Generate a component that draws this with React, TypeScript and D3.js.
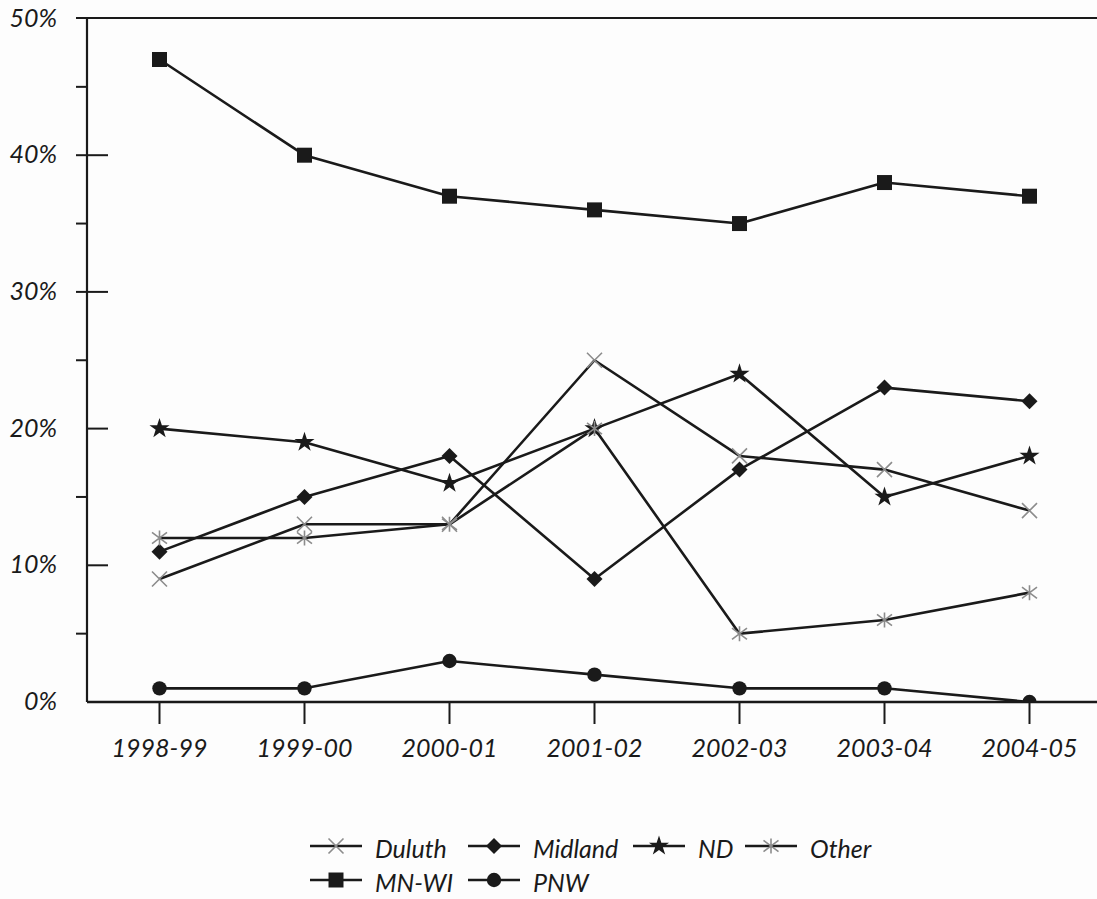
import React from "react";
import * as d3 from "d3";

const categories = ["1998-99", "1999-00", "2000-01", "2001-02", "2002-03", "2003-04", "2004-05"];
const duluth = [9, 13, 13, 25, 18, 17, 14];
const midland = [11, 15, 18, 9, 17, 23, 22];
const nd = [20, 19, 16, 20, 24, 15, 18];
const other = [12, 12, 13, 20, 5, 6, 8];
const mnwi = [47, 40, 37, 36, 35, 38, 37];
const pnw = [1, 1, 3, 2, 1, 1, 0];
const yTicks = [0, 10, 20, 30, 40, 50];
const yMinorTicks = [5, 15, 25, 35, 45];

type Sym = "x" | "diamond" | "star" | "asterisk" | "square" | "circle";
const series: { name: string; values: number[]; sym: Sym }[] = [
  { name: "Duluth", values: duluth, sym: "x" },
  { name: "Midland", values: midland, sym: "diamond" },
  { name: "ND", values: nd, sym: "star" },
  { name: "Other", values: other, sym: "asterisk" },
  { name: "MN-WI", values: mnwi, sym: "square" },
  { name: "PNW", values: pnw, sym: "circle" },
];

const W = 1097;
const H = 899;
const axisX = 87;
const topY = 18;
const baseY = 702;
const FONT = "Lato, 'Open Sans', sans-serif";
const INK = "#1a1a1a";
const GRAY = "#8c8c8c";

function Marker({ sym, x, y }: { sym: Sym; x: number; y: number }) {
  const t = `translate(${x},${y})`;
  if (sym === "x") {
    const s = 7.5;
    return <path transform={t} d={`M${-s},${-s}L${s},${s}M${-s},${s}L${s},${-s}`} stroke={GRAY} strokeWidth={1.6} fill="none" />;
  }
  if (sym === "asterisk") {
    const s = 7.5;
    return <path transform={t} d={`M${-s},${-s * 0.75}L${s},${s * 0.75}M${-s},${s * 0.75}L${s},${-s * 0.75}M0,${-s}L0,${s}`} stroke={GRAY} strokeWidth={1.6} fill="none" />;
  }
  if (sym === "diamond") {
    const s = 8;
    return <path transform={t} d={`M0,${-s}L${s},0L0,${s}L${-s},0Z`} fill={INK} />;
  }
  if (sym === "square") {
    return <path transform={t} d={d3.symbol(d3.symbolSquare, 225)() as string} fill={INK} />;
  }
  if (sym === "circle") {
    return <circle cx={x} cy={y} r={7.2} fill={INK} />;
  }
  return <path transform={t} d={d3.symbol(d3.symbolStar, 125)() as string} fill={INK} />;
}

export default function App() {
  const x = d3.scalePoint<string>().domain(categories).range([axisX, axisX + 145 * 7]).padding(0.5);
  const y = d3.scaleLinear().domain([0, 50]).range([baseY, topY + 0.5]);
  const line = d3
    .line<number>()
    .x((_, i) => x(categories[i]) as number)
    .y((v) => y(v));

  const legendRows = [
    [series[0], series[1], series[2], series[3]],
    [series[4], series[5]],
  ];
  const legendX = [310, 468, 633, 745];
  const legendY = [846, 880];

  return (
    <svg width={W} height={H} style={{ display: "block", position: "absolute", left: 0, top: 0, background: "#fdfdfd" }}>
      <defs>
        <clipPath id="plotClip">
          <rect x={axisX} y={0} width={W - axisX} height={baseY} />
        </clipPath>
      </defs>
      <rect x={0} y={0} width={W} height={H} fill="#fdfdfd" />
      {/* lines and markers */}
      <g clipPath="url(#plotClip)">
        {series.map((s) => (
          <path key={"l" + s.name} d={line(s.values) as string} fill="none" stroke={INK} strokeWidth={2.6} strokeLinejoin="round" />
        ))}
        {series.map((s) =>
          s.values.map((v, i) => <Marker key={s.name + i} sym={s.sym} x={x(categories[i]) as number} y={y(v)} />)
        )}
      </g>
      {/* frame */}
      <line x1={76} x2={W} y1={topY} y2={topY} stroke={INK} strokeWidth={2.2} />
      <line x1={axisX} x2={axisX} y1={topY} y2={baseY} stroke={INK} strokeWidth={2.2} />
      <line x1={axisX} x2={W} y1={baseY} y2={baseY} stroke={INK} strokeWidth={2.4} />
      {yMinorTicks.map((t) => (
        <line key={"m" + t} x1={76} x2={axisX} y1={y(t)} y2={y(t)} stroke={INK} strokeWidth={2} />
      ))}
      {yTicks
        .filter((t) => t > 0 && t < 50)
        .map((t) => (
          <line key={"M" + t} x1={t >= 30 ? 76 : axisX} x2={108} y1={y(t)} y2={y(t)} stroke={INK} strokeWidth={2} />
        ))}
      {yTicks.map((t) => (
        <text key={"yl" + t} x={57} y={y(t) + 8} textAnchor="end" fontFamily={FONT} fontStyle="italic" fontSize={25} fill={INK}>
          {t + "%"}
        </text>
      ))}
      {categories.map((c) => (
        <g key={c}>
          <line x1={x(c)} x2={x(c)} y1={baseY} y2={724} stroke={INK} strokeWidth={2} />
          <text x={x(c)} y={757} textAnchor="middle" fontFamily={FONT} fontStyle="italic" fontSize={25} fill={INK}>
            {c}
          </text>
        </g>
      ))}
      {/* legend */}
      {legendRows.map((row, ri) =>
        row.map((s, ci) => {
          const lx = legendX[ci];
          const ly = legendY[ri];
          return (
            <g key={"lg" + s.name}>
              <line x1={lx} x2={lx + 52} y1={ly} y2={ly} stroke={INK} strokeWidth={2.6} />
              <Marker sym={s.sym} x={lx + 26} y={ly} />
              <text x={lx + 65} y={ly + 12} fontFamily={FONT} fontStyle="italic" fontSize={25} fill={INK}>
                {s.name}
              </text>
            </g>
          );
        })
      )}
    </svg>
  );
}
